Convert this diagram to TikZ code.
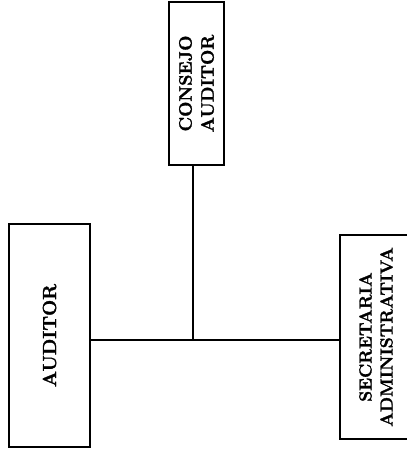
\documentclass[tikz,border=0pt]{standalone}
\usepackage{fontspec}
\setmainfont{Latin Modern Roman}[BoldFeatures={FakeBold=1.6}]
\begin{document}
\begin{tikzpicture}[x=1pt,y=-1pt,
  caja/.style={draw,line width=1.2pt,rotate=90,align=center,inner sep=0pt},
  linea/.style={line width=1.2pt}]
\useasboundingbox (0,0) rectangle (407,451);
\node[caja,minimum width=163pt,minimum height=55pt,font=\fontsize{18}{22}\selectfont\bfseries] (consejo) at (196.5,83.5) {CONSEJO\\AUDITOR};
\node[caja,minimum width=223pt,minimum height=81pt,font=\fontsize{19}{23}\selectfont\bfseries] (auditor) at (49.5,335.5) {AUDITOR};
\node[caja,minimum width=204pt,minimum height=72pt,font=\fontsize{17.5}{21}\selectfont\bfseries] (secretaria) at (376,337) {SECRETARIA\\ADMINISTRATIVA};
\coordinate (cruce) at (193,340);
\draw[linea] (consejo.west -| cruce) -- (cruce);
\draw[linea] (auditor.south |- cruce) -- (secretaria.north |- cruce);
\end{tikzpicture}
\end{document}
